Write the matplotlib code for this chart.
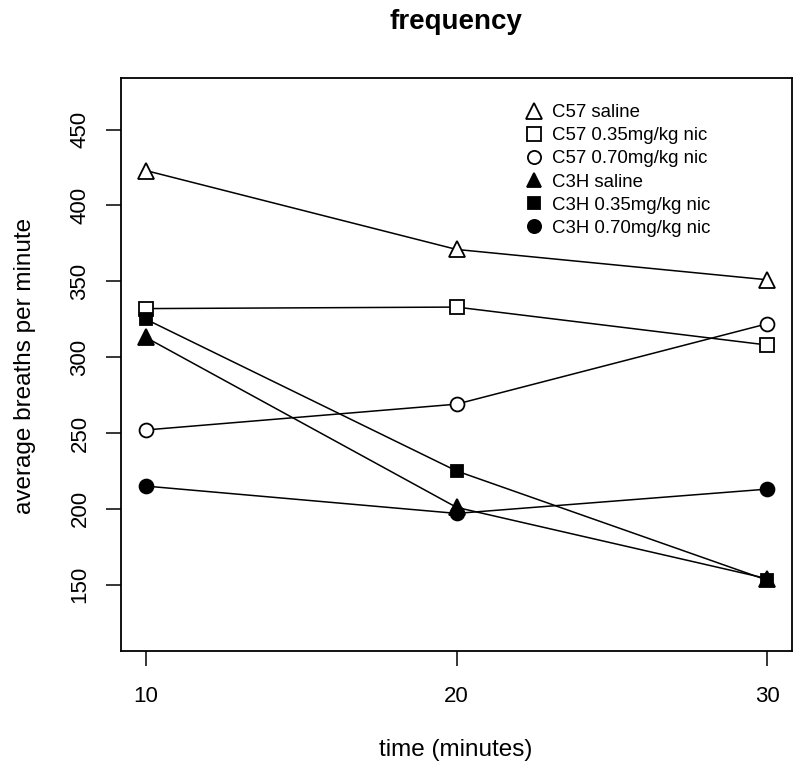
import matplotlib
matplotlib.use("Agg")
import matplotlib.pyplot as plt
from matplotlib.lines import Line2D

plt.rcParams['font.family'] = ['Liberation Sans', 'DejaVu Sans']

times = [10, 20, 30]
series_labels = ["C57 saline", "C57 0.35mg/kg nic", "C57 0.70mg/kg nic",
                 "C3H saline", "C3H 0.35mg/kg nic", "C3H 0.70mg/kg nic"]
c57_saline = [423, 371, 351]
c57_035 = [332, 333, 308]
c57_070 = [252, 269, 322]
c3h_saline = [313, 201, 154]
c3h_035 = [325, 225, 153]
c3h_070 = [215, 197, 213]
series_values = [c57_saline, c57_035, c57_070, c3h_saline, c3h_035, c3h_070]
markers = ['^', 's', 'o', '^', 's', 'o']
filled = [False, False, False, True, True, True]
msizes = [12, 10, 10, 11, 9, 10]

y_ticks = [150, 200, 250, 300, 350, 400, 450]
x_ticks = [10, 20, 30]

fig = plt.figure(figsize=(8, 7.77), dpi=100)
ax = fig.add_axes([121/800, 1-651/777, (792-121)/800, (651-78)/777])

handles = []
for vals, m, f, ms, lab in zip(series_values, markers, filled, msizes, series_labels):
    fc = 'black' if f else 'white'
    ax.plot(times, vals, color='black', lw=1.1, zorder=1)
    ax.plot(times, vals, linestyle='none', marker=m, ms=ms, mfc=fc, mec='black',
            mew=1.3, zorder=2)
    handles.append(Line2D([], [], linestyle='none', marker=m, ms=ms*0.95, mfc=fc,
                          mec='black', mew=1.3, label=lab))

ax.set_xlim(9.2, 30.8)
ax.set_ylim(106.3, 484)
ax.set_xticks(x_ticks)
ax.set_yticks(y_ticks)
ax.tick_params(axis='both', direction='out', length=11, width=1.1, labelsize=16)
ax.tick_params(axis='x', pad=14)
ax.tick_params(axis='y', pad=11)
for lbl in ax.get_yticklabels():
    lbl.set_rotation(90)
    lbl.set_va('center')
for s in ax.spines.values():
    s.set_linewidth(1.3)

fig.text(456/800, 1-22/777, "frequency", ha='center', va='center', fontsize=20, fontweight='bold')
fig.text(456/800, 1-750/777, "time (minutes)", ha='center', va='center', fontsize=17.5)
fig.text(25/800, 1-366/777, "average breaths per minute", ha='center', va='center', fontsize=17.5, rotation=90)

leg = ax.legend(handles=handles, loc='upper left',
                bbox_to_anchor=(525/800, 1-104/777), bbox_transform=fig.transFigure,
                frameon=False, fontsize=13.4, handlelength=1.0, handletextpad=0.45,
                labelspacing=0.33, borderpad=0, borderaxespad=0)

fig.savefig("out.png", dpi=100)
